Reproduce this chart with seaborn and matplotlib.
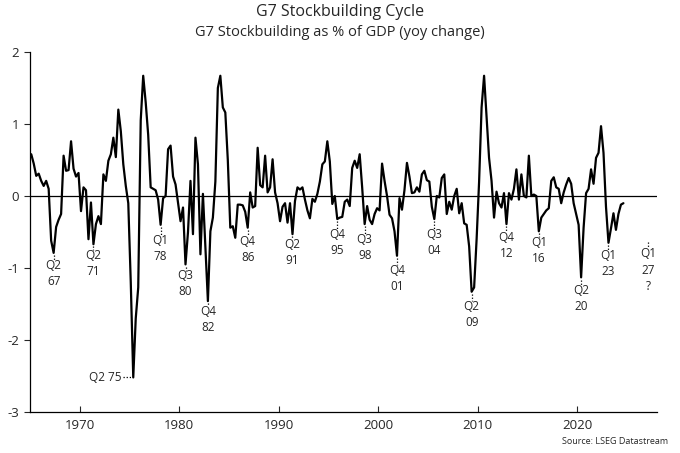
import numpy as np
import pandas as pd
import matplotlib
matplotlib.use("Agg")
import matplotlib.pyplot as plt
import seaborn as sns

# G7 stockbuilding as % of GDP, yoy change, quarterly values (Q1..Q4 per year)
first_year = 1965
sb_1965_69 = [0.58, 0.45, 0.28, 0.31,  0.21, 0.14, 0.21, 0.10,
              -0.62, -0.79, -0.43, -0.33,  -0.25, 0.56, 0.35, 0.36,
              0.76, 0.38, 0.27, 0.32]
sb_1970s = [-0.21, 0.12, 0.08, -0.60,  -0.09, -0.67, -0.39, -0.28,
            -0.39, 0.30, 0.21, 0.49,  0.58, 0.81, 0.54, 1.20,
            0.90, 0.44, 0.14, -0.10,  -1.20, -2.52, -1.70, -1.27,
            1.05, 1.67, 1.30, 0.85,  0.12, 0.10, 0.08, -0.05,
            -0.40, -0.03, 0.00, 0.65,  0.70, 0.27, 0.16, -0.10]
sb_1980s = [-0.35, -0.16, -0.95, -0.50,  0.21, -0.53, 0.81, 0.44,
            -0.81, 0.03, -0.72, -1.46,  -0.49, -0.30, 0.20, 1.50,
            1.67, 1.23, 1.16, 0.50,  -0.44, -0.42, -0.58, -0.12,
            -0.12, -0.13, -0.22, -0.44,  0.05, -0.16, -0.14, 0.67,
            0.15, 0.12, 0.56, 0.05,  0.12, 0.51, 0.05, -0.10]
sb_1990s = [-0.35, -0.15, -0.10, -0.37,  -0.10, -0.53, -0.07, 0.12,
            0.09, 0.12, -0.05, -0.20,  -0.31, -0.04, -0.08, 0.03,
            0.20, 0.44, 0.48, 0.76,  0.48, -0.11, 0.00, -0.32,
            -0.30, -0.29, -0.08, -0.05,  -0.14, 0.39, 0.49, 0.39,
            0.58, 0.12, -0.39, -0.14,  -0.33, -0.39, -0.25, -0.17]
sb_2000s = [-0.20, 0.45, 0.21, 0.00,  -0.26, -0.31, -0.49, -0.83,
            -0.03, -0.19, 0.08, 0.46,  0.27, 0.04, 0.05, 0.12,
            0.06, 0.30, 0.35, 0.22,  0.20, -0.15, -0.32, 0.00,
            -0.02, 0.25, 0.30, -0.25,  -0.08, -0.19, 0.00, 0.10,
            -0.24, -0.10, -0.38, -0.40,  -0.70, -1.33, -1.27, -0.60]
sb_2010s = [0.20, 1.23, 1.67, 1.09,  0.53, 0.21, -0.30, 0.06,
            -0.10, -0.16, 0.04, -0.39,  0.04, -0.05, 0.10, 0.37,
            -0.05, 0.30, 0.00, -0.02,  0.56, 0.00, 0.02, 0.00,
            -0.49, -0.30, -0.25, -0.20,  -0.17, 0.21, 0.26, 0.12,
            0.10, -0.10, 0.05, 0.16,  0.25, 0.17, -0.10, -0.25]
sb_2020s = [-0.40, -1.13, -0.44, 0.04,  0.10, 0.37, 0.17, 0.53,
            0.60, 0.97, 0.60, -0.15,  -0.65, -0.45, -0.24, -0.47,
            -0.25, -0.12, -0.10]

# labelled troughs: quarter and text
trough_quarter = ["1967Q2", "1971Q2", "1978Q1", "1980Q3", "1982Q4", "1986Q4",
                  "1991Q2", "1995Q4", "1998Q3", "2001Q4", "2005Q3", "2009Q2",
                  "2012Q4", "2016Q1", "2020Q2", "2023Q1"]
trough_text = ["Q2\n67", "Q2\n71", "Q1\n78", "Q3\n80", "Q4\n82", "Q4\n86",
               "Q2\n91", "Q4\n95", "Q3\n98", "Q4\n01", "Q3\n04", "Q2\n09",
               "Q4\n12", "Q1\n16", "Q2\n20", "Q1\n23"]
label_mid = [-1.08, -0.94, -0.73, -1.22, -1.71, -0.74, -0.78, -0.65, -0.72,
             -1.14, -0.65, -1.64, -0.69, -0.76, -1.42, -0.94]

values = sb_1965_69 + sb_1970s + sb_1980s + sb_1990s + sb_2000s + sb_2010s + sb_2020s
idx = np.arange(len(values))
df = pd.DataFrame({
    "year": first_year + idx // 4,
    "q": idx % 4 + 1,
    "value": values,
})
df["t"] = df["year"] + (df["q"] - 1) / 4 + 0.125
df["label"] = df["year"].astype(str) + "Q" + df["q"].astype(str)

sns.set_style("white")
plt.rcParams["font.family"] = ["Open Sans", "DejaVu Sans"]
plt.rcParams["axes.unicode_minus"] = False

fig = plt.figure(figsize=(6.8, 4.53), dpi=100)
ax = fig.add_axes([30 / 680, 1 - 412 / 453, 627 / 680, 360 / 453])

sns.lineplot(data=df, x="t", y="value", ax=ax, color="black", linewidth=1.6)
ax.axhline(0, color="black", linewidth=0.9)

dot = dict(color="black", linestyle=(0, (1, 1.5)), linewidth=0.9)
for q, txt, mid in zip(trough_quarter, trough_text, label_mid):
    row = df[df["label"] == q].iloc[0]
    top = mid + 0.185
    ax.plot([row["t"], row["t"]], [row["value"] - 0.03, top], **dot)
    ax.text(row["t"], mid, txt, ha="center", va="center", fontsize=8.5,
            linespacing=1.3)

# deepest trough, labelled to the side
r75 = df[df["label"] == "1975Q2"].iloc[0]
ax.plot([r75["t"] - 1.0, r75["t"] - 0.1], [r75["value"], r75["value"]], **dot)
ax.text(r75["t"] - 1.15, r75["value"], "Q2 75", ha="right", va="center",
        fontsize=8.5)

# next expected trough
ax.plot([2027.125, 2027.125], [-0.64, -0.71], **dot)
ax.text(2027.125, -1.03, "Q1\n27\n?", ha="center", va="center", fontsize=8.5,
        linespacing=1.35)

ax.set_xlim(1965, 2028)
ax.set_ylim(-3, 2)
ax.set_xticks([1970, 1980, 1990, 2000, 2010, 2020])
ax.set_yticks([-3, -2, -1, 0, 1, 2])
ax.set_yticklabels(["-3", "-2", "-1", "0", "1", "2"])
ax.tick_params(axis="x", direction="in", length=4, width=0.8, labelsize=9.5,
               pad=5, bottom=True)
ax.tick_params(axis="y", direction="out", length=4, width=0.8, labelsize=9.5,
               pad=4, left=True)
ax.set_xlabel("")
ax.set_ylabel("")
for s in ["top", "right"]:
    ax.spines[s].set_visible(False)
for s in ["left", "bottom"]:
    ax.spines[s].set_color("black")
    ax.spines[s].set_linewidth(0.9)

fig.text(0.5, 1 - 12 / 453, "G7 Stockbuilding Cycle", ha="center", va="center",
         fontsize=11.5)
fig.text(0.5, 1 - 32 / 453, "G7 Stockbuilding as % of GDP (yoy change)",
         ha="center", va="center", fontsize=10.5)
fig.text(668 / 680, 1 - 441 / 453, "Source: LSEG Datastream", ha="right",
         va="center", fontsize=6.5)

fig.savefig("out.png", dpi=100)
